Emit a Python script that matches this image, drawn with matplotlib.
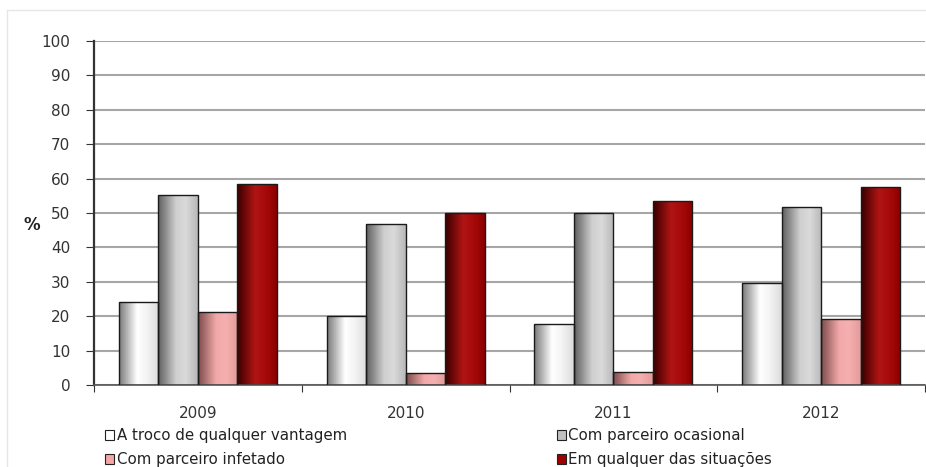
import numpy as np
import matplotlib
matplotlib.use("Agg")
import matplotlib.pyplot as plt
from matplotlib.colors import LinearSegmentedColormap
from matplotlib.lines import Line2D
from matplotlib.patches import Patch

plt.rcParams["font.family"] = ["DejaVu Sans"]

years = ["2009", "2010", "2011", "2012"]
series = ["A troco de qualquer vantagem", "Com parceiro ocasional",
          "Com parceiro infetado", "Em qualquer das situações"]
troco = [24, 20, 17.7, 29.6]
ocasional = [55.2, 46.7, 50, 51.7]
infetado = [21.3, 3.6, 3.7, 19.1]
qualquer = [58.4, 49.9, 53.6, 57.5]
values = [troco, ocasional, infetado, qualquer]

# horizontal gradients (left dark edge -> light middle -> slightly darker right)
grads = [["#7a7a7a", "#ffffff", "#f4f4f4", "#dcdcdc"],
         ["#606060", "#cfcfcf", "#dadada", "#b8b8b8"],
         ["#7d4c4c", "#f2a8a8", "#f6b0b0", "#e49a9a"],
         ["#3a0000", "#b01414", "#a80a0a", "#8c0000"]]
solid = ["#ffffff", "#c0c0c0", "#f4a6a6", "#a00000"]

fig = plt.figure(figsize=(9.26, 4.67), dpi=100)
ax = fig.add_axes([94 / 926, 1 - 385 / 467, 831 / 926, 344 / 467])

# faint outer chart frame: only top and left edges are inside the image
top = 1 - 10 / 467
left = 7 / 926
fig.add_artist(Line2D([left, 1.0], [top, top], transform=fig.transFigure, color="#e6e6e6", lw=1.0))
fig.add_artist(Line2D([left, left], [0, top], transform=fig.transFigure, color="#e6e6e6", lw=1.0))

x = np.arange(len(years))
w = 0.19
offsets = (np.arange(4) - 1.5) * w
grad_img = np.linspace(0, 1, 64).reshape(1, -1)
for k, (vals, g) in enumerate(zip(values, grads)):
    cmap = LinearSegmentedColormap.from_list("g%d" % k, list(zip([0, 0.45, 0.7, 1.0], g)))
    bars = ax.bar(x + offsets[k], vals, width=w, color="none", edgecolor="#1a1a1a", lw=1.0, zorder=3)
    for b in bars:
        x0, y0, bw, bh = b.get_x(), b.get_y(), b.get_width(), b.get_height()
        im = ax.imshow(grad_img, cmap=cmap, extent=[x0, x0 + bw, y0, y0 + bh],
                       aspect="auto", zorder=2, interpolation="bilinear")
        im.set_clip_path(b)

ax.set_xlim(-0.5, len(years) - 0.5)
ax.set_ylim(0, 100)
ax.set_yticks(range(0, 101, 10))
ax.yaxis.grid(True, color="#a6a6a6", lw=1.5)
ax.set_axisbelow(True)
ax.set_xticks(np.arange(len(years) + 1) - 0.5)
ax.set_xticklabels([])
ax.set_xticks(x, minor=True)
ax.set_xticklabels(years, minor=True)
ax.tick_params(axis="x", which="minor", length=0, pad=15, labelsize=11, labelcolor="#333333")
ax.tick_params(axis="x", which="major", length=5, color="#333333")
ax.tick_params(axis="y", length=6, labelsize=11, pad=11, labelcolor="#333333", color="#333333")
for s in ["top", "right"]:
    ax.spines[s].set_visible(False)
ax.spines["left"].set_color("#333333")
ax.spines["left"].set_linewidth(1.6)
ax.spines["bottom"].set_color("#555555")
ax.spines["bottom"].set_linewidth(1.2)

fig.text(32 / 926, 1 - 225 / 467, "%", fontsize=12, fontweight="bold", ha="center", va="center",
         color="#222222")

handles = [Patch(facecolor=solid[i], edgecolor="#222222", lw=0.8) for i in range(4)]
order = [0, 2, 1, 3]
leg = fig.legend([handles[i] for i in order], [series[i] for i in order], ncol=2,
                 loc="upper left", bbox_to_anchor=(105 / 926, 1 - 428 / 467), frameon=False,
                 fontsize=10.8, handlelength=0.62, handleheight=0.62, handletextpad=0.15,
                 columnspacing=14.0, labelspacing=0.62, borderpad=0, borderaxespad=0)
for t in leg.get_texts():
    t.set_color("#222222")

fig.savefig("out.png", dpi=100)
